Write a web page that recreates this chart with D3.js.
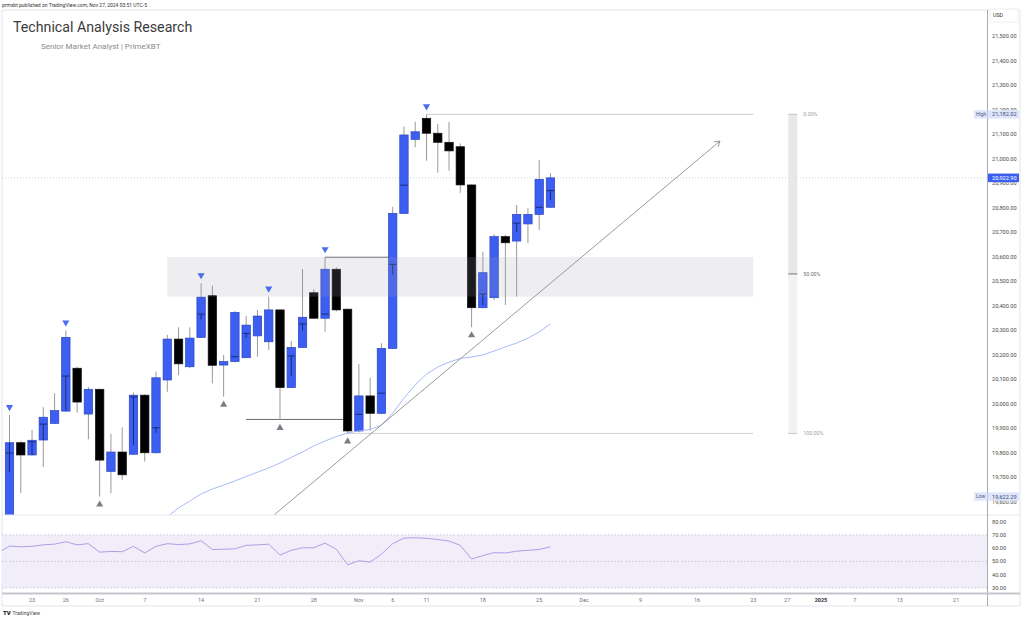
<!DOCTYPE html>
<html><head><meta charset="utf-8">
<script src="https://cdn.jsdelivr.net/npm/d3@7"></script>
<style>html,body{margin:0;padding:0;background:#fff;}svg{display:block;font-family:Roboto,"Liberation Sans",Arial,sans-serif;}</style>
</head><body><svg id="c" width="1024" height="620"></svg>
<script>
// ---------------- DATA ----------------
const dates = ["2024-09-19","2024-09-20","2024-09-23","2024-09-24","2024-09-25","2024-09-26","2024-09-27","2024-09-30",
"2024-10-01","2024-10-02","2024-10-03","2024-10-04","2024-10-07","2024-10-08","2024-10-09","2024-10-10","2024-10-11",
"2024-10-14","2024-10-15","2024-10-16","2024-10-17","2024-10-18","2024-10-21","2024-10-22","2024-10-23","2024-10-24",
"2024-10-25","2024-10-28","2024-10-29","2024-10-30","2024-10-31","2024-11-01","2024-11-04","2024-11-05","2024-11-06",
"2024-11-07","2024-11-08","2024-11-11","2024-11-12","2024-11-13","2024-11-14","2024-11-15","2024-11-18","2024-11-19",
"2024-11-20","2024-11-21","2024-11-22","2024-11-25","2024-11-26"];
const open  = [19530,19842,19792,19853,19921,19971,20146,19959,20060,19725,19804,19795,20036,19801,20098,20265,20152,
20272,20442,20159,20173,20189,20278,20254,20384,20067,20231,20454,20350,20550,20387,19890,20033,19962,20227,
20778,21080,21166,21105,21068,21050,20894,20393,20434,20683,20665,20735,20774,20803];
const high  = [19955,19848,19894,19987,20044,20300,20152,20070,20063,19878,19905,20046,20040,20132,20282,20313,20313,
20493,20483,20200,20380,20359,20384,20438,20386,20257,20551,20468,20599,20558,20390,20163,20107,20248,20805,
21132,21152,21182.02,21143,21151,21064,20896,20622,20694,20690,20812,20799,20996,20942];
const low   = [19480,19637,19790,19743,19918,19968,19965,19856,19622.29,19636,19690,19793,19765,19798,20050,20118,20146,
20270,20084,20030,20170,20187,20193,20220,19935,20065,20229,20348,20295,20378,19880,19885,19891,19960,20225,
20776,21048,20993,20944,20952,20862,20313,20390,20424,20404,20438,20656,20710,20800];
const close = [19842,19792,19852,19946,19973,20272,20008,20060,19771,19804,19711,20036,19801,20107,20265,20164,20269,
20436,20158,20173,20374,20322,20359,20384,20067,20231,20354,20350,20550,20384,19890,20033,19962,20227,20778,
21098,21111,21105,21068,21033,20894,20393,20536,20683,20658,20774,20774,20917,20922.90];

// dark inner marks inside some candles
const innerIdx  = [0,2,3,5,11,13,17,20,21,25,26,28,31,33,34,35,42,45,47,48];
const innerTick = [19800,19846,19918,20114,20029,19903,20367,20193,20288,20196,20327,20367,19958,20044,20570,20893,20449,20738,20803,20871];
const innerFrom = [19842,19846,19918,20114,20029,19903,20367,20193,20288,20196,20327,20367,19958,20044,20570,20893,20449,20738,20803,20871];
const innerTo   = [19722,19792,19853,19975,19833,19883,20345,20193,20270,20114,20300,20367,19958,20044,20527,20893,20404,20702,20803,20833];

// moving average (starts at candle index 14)
const maStart = 14;
const ma = [19540,19576,19604,19633,19653,19669,19686,19704,19722,19739,19759,19782,19804,19829,19849,19867,19882,
19890,19896,19914,19963,20024,20078,20122,20151,20171,20186,20192,20200,20216,20233,20249,20269,20294,20327];

// RSI (starts at index -1)
const rsiStart = -1;
const rsi = [56.5,61.6,61.0,61.4,62.5,63.0,64.9,62.5,63.4,57.0,57.5,57.3,61.4,56.4,61.4,63.4,62.7,63.2,65.6,59.0,
59.2,59.5,62.1,62.5,63.0,54.8,58.4,60.3,60.3,63.8,59.2,47.5,50.5,49.5,55.5,63.4,67.6,67.8,67.4,66.5,65.4,62.1,
51.8,54.4,56.6,56.4,57.7,58.4,59.0,61.0];

const pivotHighs = [0,5,17,23,28,37];
const pivotLows  = [8,19,24,30,41];

// annotations
const zone = {i0:14, i1:66, top:20600, bottom:20438};
const supportLine = {i0:21, i1:30, v:19937};
const resistLine  = {i0:28, i1:34, v:20599};
const fib = {hi:21182.02, lo:19880, hiStart:37, loStart:30, end:66, bar0:69.1, bar1:69.9};
const fibLevels = [0, 0.5, 1];
const fibLabels = ["0.00%","50.00%","100.00%"];
const trend = {i0:23.47, v0:19547, i1:63.04, v1:21073};

const priceTicks = [19600,19700,19800,19900,20000,20100,20200,20300,20400,20500,20600,20700,20800,20900,21000,21100,21200,21300,21400,21500];
const rsiTicks = [80,70,60,50,40,30];
const timeTickIdx = [2,5,8,12,17,22,27,31,34,37,42,47,51,56,61,66,69,72,75,79,84];
const timeTickLabels = ["23","26","Oct","7","14","21","28","Nov","6","11","18","25","Dec","9","16","23","27","2025","7","13","21"];
const lastPrice = 20922.90, highVal = 21182.02, lowVal = 19622.29;

// ---------------- LAYOUT ----------------
const svg = d3.select("#c");
const L = 2, R = 987.5, mainTop = 10, mainBot = 515, rsiBot = 593;
const x = d3.scaleLinear().domain([0, 84]).range([9.5, 956.2]);
const y = d3.scaleLinear().domain([19547, 21608]).range([515, 10]);
const yr = d3.scaleLinear().domain([30, 80]).range([588, 521.6]);
const bw = 8.4;
const fmt = d3.format(",.2f");

const defs = svg.append("defs");
defs.append("clipPath").attr("id","mainClip").append("rect").attr("x",L).attr("y",mainTop).attr("width",R-L).attr("height",mainBot-mainTop);
defs.append("clipPath").attr("id","rsiClip").append("rect").attr("x",L).attr("y",mainBot).attr("width",R-L).attr("height",rsiBot-mainBot);

// header text
svg.append("text").attr("x",2).attr("y",7).attr("font-size",5).attr("fill","#333").text("prmxbt published on TradingView.com, Nov 27, 2024 03:51 UTC-5");
// frame
svg.append("line").attr("x1",L).attr("x2",1020).attr("y1",10).attr("y2",10).attr("stroke","#e3e5ea");
svg.append("line").attr("x1",L).attr("x2",L).attr("y1",10).attr("y2",606).attr("stroke","#e3e5ea");
svg.append("line").attr("x1",L).attr("x2",1020).attr("y1",606).attr("y2",606).attr("stroke","#e3e5ea");
svg.append("line").attr("x1",1020).attr("x2",1020).attr("y1",10).attr("y2",606).attr("stroke","#e3e5ea");

const main = svg.append("g").attr("clip-path","url(#mainClip)");

// current price dotted line
main.append("line").attr("x1",L).attr("x2",R).attr("y1",y(lastPrice)).attr("y2",y(lastPrice))
  .attr("stroke","#a9cdc8").attr("stroke-dasharray","1,2").attr("stroke-width",0.8);

// support / resistance lines
[supportLine, resistLine].forEach(s=>{
  main.append("line").attr("x1",x(s.i0)).attr("x2",x(s.i1)).attr("y1",y(s.v)).attr("y2",y(s.v)).attr("stroke","#6a6a6a").attr("stroke-width",1);
});
main.append("line").attr("x1",x(resistLine.i0)).attr("x2",x(resistLine.i0)).attr("y1",y(resistLine.v)).attr("y2",y(high[28])).attr("stroke","#6a6a6a");

// fib lines
main.append("line").attr("x1",x(fib.hiStart)).attr("x2",x(fib.end)).attr("y1",y(fib.hi)).attr("y2",y(fib.hi)).attr("stroke","#cfcfcf");
main.append("line").attr("x1",x(fib.loStart)).attr("x2",x(fib.end)).attr("y1",y(fib.lo)).attr("y2",y(fib.lo)).attr("stroke","#cfcfd4");

// candles
const idx = d3.range(dates.length);
const up = i => close[i] >= open[i];
main.selectAll("line.wick").data(idx).join("line").attr("class","wick")
  .attr("x1",i=>x(i)).attr("x2",i=>x(i)).attr("y1",i=>y(high[i])).attr("y2",i=>y(low[i]))
  .attr("stroke","#9a9a9a").attr("stroke-width",1);
main.selectAll("rect.body").data(idx).join("rect").attr("class","body")
  .attr("x",i=>x(i)-bw/2).attr("width",bw)
  .attr("y",i=>y(Math.max(open[i],close[i])))
  .attr("height",i=>Math.max(1.5, Math.abs(y(open[i])-y(close[i]))))
  .attr("fill",i=>up(i)?"#3c5ff2":"#000")
  .attr("stroke",i=>up(i)?"#2945c4":"#111").attr("stroke-width",0.7);
// inner marks
innerIdx.forEach((ci,k)=>{
  main.append("line").attr("x1",x(ci)-bw/2+0.5).attr("x2",x(ci)+bw/2-0.5).attr("y1",y(innerTick[k])).attr("y2",y(innerTick[k]))
    .attr("stroke","#1b2a7a").attr("stroke-width",1);
  if (innerFrom[k]!==innerTo[k]) main.append("line").attr("x1",x(ci)).attr("x2",x(ci)).attr("y1",y(innerFrom[k])).attr("y2",y(innerTo[k]))
    .attr("stroke","#1b2a7a").attr("stroke-width",1);
});

// zone (drawn over candles, translucent)
main.append("rect").attr("x",x(zone.i0)).attr("width",x(zone.i1)-x(zone.i0))
  .attr("y",y(zone.top)).attr("height",y(zone.bottom)-y(zone.top))
  .attr("fill","rgb(160,160,175)").attr("fill-opacity",0.18);

// moving average
main.append("path").datum(ma).attr("fill","none").attr("stroke","#9db2f8").attr("stroke-width",0.9)
  .attr("d",d3.line().x((d,k)=>x(maStart+k)).y(d=>y(d)));

// trend line + arrow
const tx0=x(trend.i0), ty0=y(trend.v0), tx1=x(trend.i1), ty1=y(trend.v1);
main.append("line").attr("x1",tx0).attr("y1",ty0).attr("x2",tx1).attr("y2",ty1).attr("stroke","#8f8f8f").attr("stroke-width",0.9);
const ang = Math.atan2(ty1-ty0, tx1-tx0);
[Math.PI*0.82, -Math.PI*0.82].forEach(a=>{
  main.append("line").attr("x1",tx1).attr("y1",ty1).attr("x2",tx1+6*Math.cos(ang+a)).attr("y2",ty1+6*Math.sin(ang+a)).attr("stroke","#8f8f8f").attr("stroke-width",0.9);
});

// pivot markers
const tri = d3.symbol().type(d3.symbolTriangle).size(22);
pivotHighs.forEach(i=>{
  main.append("path").attr("d",tri()).attr("transform",`translate(${x(i)},${y(high[i])-8}) rotate(180)`).attr("fill","#4a6cf0");
});
pivotLows.forEach(i=>{
  main.append("path").attr("d",tri()).attr("transform",`translate(${x(i)},${y(low[i])+8})`).attr("fill","#7b7e87");
});

// fib bar
const yH=y(fib.hi), yM=y(fib.hi-(fib.hi-fib.lo)*0.5), yL=y(fib.lo);
const fb0=x(fib.bar0), fb1=x(fib.bar1);
svg.append("rect").attr("x",fb0).attr("width",fb1-fb0).attr("y",yH).attr("height",yM-yH).attr("fill","#e8e8e8");
svg.append("rect").attr("x",fb0).attr("width",fb1-fb0).attr("y",yM).attr("height",yL-yM).attr("fill","#f2f2f4");
fibLevels.forEach((lv,k)=>{
  const yy = y(fib.hi-(fib.hi-fib.lo)*lv);
  svg.append("line").attr("x1",fb0).attr("x2",fb1).attr("y1",yy).attr("y2",yy)
    .attr("stroke",lv===0.5?"#8a8a8a":"#c4c4ca").attr("stroke-width",lv===0.5?1.2:1);
  svg.append("text").attr("x",fb1+6).attr("y",yy).attr("dy","0.35em").attr("font-size",5.3)
    .attr("fill",lv===0.5?"#707070":"#a0a0a0").text(fibLabels[k]);
});

// ---------------- RSI PANE ----------------
svg.append("line").attr("x1",L).attr("x2",1020).attr("y1",mainBot).attr("y2",mainBot).attr("stroke","#e6e7ea");
svg.append("rect").attr("x",L).attr("width",R-L).attr("y",yr(70)).attr("height",yr(30)-yr(70)).attr("fill","#f1eef9");
[70,50,30].forEach(v=>{
  svg.append("line").attr("x1",L).attr("x2",R).attr("y1",yr(v)).attr("y2",yr(v)).attr("stroke","#b8b9c2").attr("stroke-dasharray","1.5,2").attr("stroke-width",0.7);
});
svg.append("g").attr("clip-path","url(#rsiClip)").append("path").datum(rsi).attr("fill","none").attr("stroke","#ad9ee6").attr("stroke-width",1)
  .attr("d",d3.line().x((d,k)=>x(rsiStart+k)).y(d=>yr(d)));

// ---------------- AXES ----------------
svg.append("line").attr("x1",R).attr("x2",R).attr("y1",10).attr("y2",606).attr("stroke","#a9abb3").attr("stroke-width",1);
// price axis
const pa = svg.append("g");
priceTicks.forEach(v=>{
  pa.append("text").attr("x",992).attr("y",y(v)).attr("dy","0.35em").attr("font-size",5.6).attr("fill","#4c4c4c").text(fmt(v));
});
// USD box
svg.append("rect").attr("x",990).attr("y",9).attr("width",28).attr("height",13).attr("fill","#fff").attr("stroke","#eceef2");
svg.append("text").attr("x",993).attr("y",15.5).attr("dy","0.35em").attr("font-size",5.3).attr("fill","#333").text("USD");
// High / Low labels
function tag(val, name){
  const yy = y(val);
  svg.append("rect").attr("x",974).attr("y",yy-4.2).attr("width",13.5).attr("height",8.4).attr("fill","#dfe6fb");
  svg.append("text").attr("x",976).attr("y",yy).attr("dy","0.35em").attr("font-size",5).attr("fill","#4c5a88").text(name);
  svg.append("rect").attr("x",988).attr("y",yy-4.2).attr("width",31).attr("height",8.4).attr("fill","#dfe6fb");
  svg.append("text").attr("x",992).attr("y",yy).attr("dy","0.35em").attr("font-size",5.6).attr("fill","#3b4a7a").text(fmt(val));
}
tag(highVal,"High");
tag(lowVal,"Low");
// last price tag
svg.append("rect").attr("x",988).attr("y",y(lastPrice)-4.3).attr("width",31).attr("height",8.6).attr("fill","#3c5ff2");
svg.append("text").attr("x",992).attr("y",y(lastPrice)).attr("dy","0.35em").attr("font-size",5.6).attr("fill","#fff").text(fmt(lastPrice));
// rsi axis
rsiTicks.forEach(v=>{
  svg.append("text").attr("x",992).attr("y",yr(v)).attr("dy","0.35em").attr("font-size",5.6).attr("fill","#4c4c4c").text(d3.format(".2f")(v));
});
// time axis
svg.append("line").attr("x1",L).attr("x2",1020).attr("y1",rsiBot+0.5).attr("y2",rsiBot+0.5).attr("stroke","#c4c6cc").attr("stroke-width",2);
timeTickIdx.forEach((ti,k)=>{
  const lab = timeTickLabels[k];
  svg.append("text").attr("x",x(ti)).attr("y",600).attr("dy","0.35em").attr("text-anchor","middle")
    .attr("font-size",5.5).attr("font-weight",lab==="2025"?"bold":"normal").attr("fill",lab==="2025"?"#333":"#6f727b").text(lab);
});

// title
svg.append("text").attr("x",13).attr("y",32).attr("font-size",14.2).attr("fill","#3b3b3d").text("Technical Analysis Research");
svg.append("text").attr("x",41).attr("y",49).attr("font-size",8).attr("fill","#8a8a8e").text("Senior Market Analyst | PrimeXBT");

// TradingView footer
svg.append("text").attr("x",3).attr("y",615).attr("font-size",6).attr("font-weight",900).attr("fill","#222").text("TV");
svg.append("text").attr("x",12.5).attr("y",615).attr("font-size",5).attr("fill","#444").text("TradingView");
</script></body></html>
